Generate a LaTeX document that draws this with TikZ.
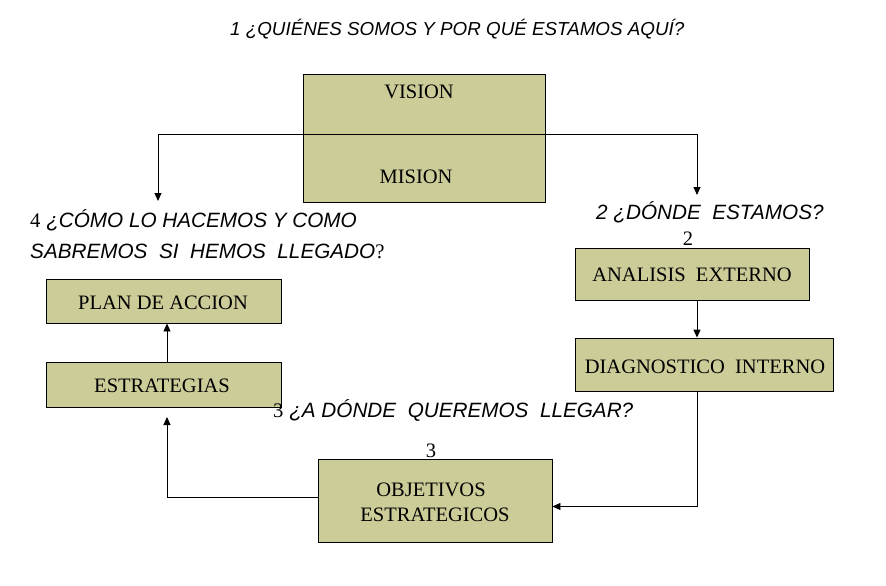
\documentclass[tikz,border=0pt]{standalone}
\usepackage{fontspec}
\setmainfont{Liberation Serif}
\newfontfamily\arial{Liberation Sans}
\usetikzlibrary{arrows.meta}
\definecolor{caqui}{RGB}{204,204,153}
\newcommand\tnum[1]{{\upshape\rmfamily #1}}
\tikzset{
  caja/.style={draw, fill=caqui, line width=0.9pt, inner sep=0pt},
  txt/.style={font=\fontsize{20.5}{22}\selectfont, anchor=base, inner sep=0pt},
  preg/.style={font=\arial\itshape\fontsize{20.7}{22}\selectfont, anchor=base west, inner sep=0pt},
  flecha/.style={line width=0.9pt, -{Triangle[length=8pt,width=7pt]}}
}
\begin{document}
\begin{tikzpicture}[x=1pt,y=-1pt]
\useasboundingbox (0,0) rectangle (886,586);

% Cajas
\node[caja, minimum width=242pt, minimum height=128pt] (vm) at (424,138) {};
\node[caja, minimum width=235pt, minimum height=44pt] (plan) at (163.5,301) {};
\node[caja, minimum width=235pt, minimum height=45pt] (estrategias) at (163.5,384.5) {};
\node[caja, minimum width=234pt, minimum height=52pt] (analisis) at (692,274) {};
\node[caja, minimum width=258pt, minimum height=53pt] (diagnostico) at (704,364.5) {};
\node[caja, minimum width=234pt, minimum height=83pt] (objetivos) at (435,500.5) {};

% Textos de las cajas
\node[txt] (vision) at (419,99) {VISION};
\node[txt] (mision) at (416,183) {MISION};
\node[txt] (tplan) at (163,309) {PLAN DE ACCION};
\node[txt] (testr) at (162,392) {ESTRATEGIAS};
\node[txt] (tanal) at (692,281) {ANALISIS\ \ EXTERNO};
\node[txt] (tdiag) at (705,373) {DIAGNOSTICO\ \ INTERNO};
\node[txt] (tobj) at (431,496) {OBJETIVOS};
\node[txt] (testrat) at (435,521) {ESTRATEGICOS};
\node[txt] (dos) at (688,245) {2};
\node[txt] (tres) at (431,457) {3};

% Preguntas
\node[preg, font=\arial\itshape\fontsize{18.8}{20}\selectfont] (p1) at (230,36) {1 ¿QUIÉNES SOMOS Y POR QUÉ ESTAMOS AQUÍ?};
\node[preg] (p4a) at (30,227) {\tnum{4} ¿CÓMO LO HACEMOS Y COMO};
\node[preg] (p4b) at (30,258) {SABREMOS\ \ SI\ \ HEMOS\ \ LLEGADO\tnum{?}};
\node[preg] (p2) at (596,219) {2 ¿DÓNDE\ \ ESTAMOS?};
\node[preg] (p3) at (273,417) {\tnum{3} ¿A DÓNDE\ \ QUEREMOS\ \ LLEGAR?};

% Conectores
\coordinate (eje) at (424,134);
\coordinate (izq) at (158,201);
\coordinate (der) at (697,195);
\coordinate (bajo) at (167,417);
\draw[flecha] (eje) -| (izq);
\draw[flecha] (eje) -| (der);
\draw[flecha] (analisis.south -| der) -- (diagnostico.north -| der);
\draw[flecha] (diagnostico.south -| der) |- ([yshift=-6pt]objetivos.east);
\draw[flecha] ([yshift=3pt]objetivos.west) -| (bajo);
\draw[flecha] (estrategias.north -| bajo) -- (plan.south -| bajo);
\end{tikzpicture}
\end{document}
